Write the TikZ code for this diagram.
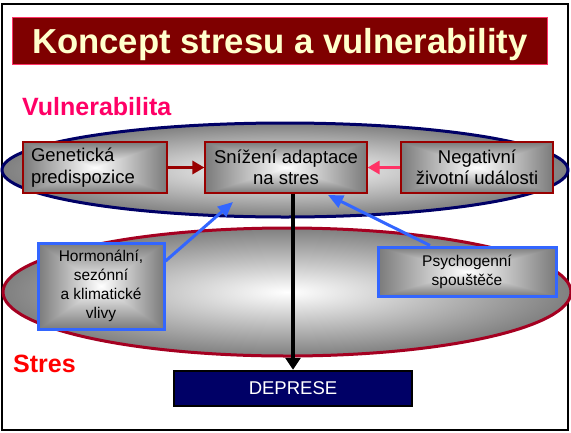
\documentclass[tikz,border=0pt]{standalone}
\usepackage{fontspec}
\setmainfont{Liberation Sans}
\usetikzlibrary{arrows.meta,calc}

% light centre fading to grey towards every edge of the box
\pgfdeclarefunctionalshading{rectglow}{\pgfpoint{-50bp}{-50bp}}{\pgfpoint{50bp}{50bp}}{}{
  abs exch abs 2 copy lt {exch} if pop 25 div dup 1 gt {pop 1} if
  0.52 mul 1 exch sub dup dup
}

\definecolor{titlered}{HTML}{7F0000}
\definecolor{titlerim}{HTML}{FF3366}
\definecolor{cream}{HTML}{FFFFCC}
\definecolor{vulnpink}{HTML}{FF0066}
\definecolor{stresred}{HTML}{FF0000}
\definecolor{navyrim}{HTML}{000066}
\definecolor{crimson}{HTML}{A50021}
\definecolor{boxrim}{HTML}{990000}
\definecolor{arrowpink}{HTML}{FF3366}
\definecolor{trigblue}{HTML}{3366FF}
\definecolor{depnavy}{HTML}{000066}

\tikzset{
  labelfont/.style={font=\fontsize{18.5}{21.5}\selectfont},
  smallfont/.style={font=\fontsize{15.5}{19}\selectfont},
  factorbox/.style={shade, shading=rectglow, draw=boxrim, line width=1.2pt,
    inner sep=0pt, labelfont},
  triggerbox/.style={shade, shading=rectglow, draw=trigblue, line width=3pt,
    inner sep=0pt, smallfont, align=center},
  redlink/.style={draw=boxrim, line width=3pt, -{Triangle[length=12pt,width=13pt]}},
  pinklink/.style={draw=arrowpink, line width=3pt, -{Triangle[length=12pt,width=13pt]}},
  bluelink/.style={draw=trigblue, line width=3pt, -{Triangle[length=15pt,width=13pt]}},
  outcome/.style={draw=black, line width=3.5pt, -{Triangle[length=12pt,width=15pt]}},
}

\begin{document}
\begin{tikzpicture}[x=1pt,y=-1pt]
\useasboundingbox (0,0) rectangle (571,432);

% outer frame
\draw[line width=2pt] (1.5,4) rectangle (568,430);

% heading bar
\node[fill=titlered, draw=titlerim, line width=0.8pt, minimum width=535pt,
  minimum height=47pt, inner sep=0pt] (titlebar) at (279.5,40.5) {};
\node[anchor=base, inner sep=0pt, text=cream,
  font=\fontsize{34.7}{40}\selectfont\bfseries] (title) at (280,53)
  {Koncept stresu a vulnerability};

% the two zones
\shadedraw[inner color=white, outer color=gray, draw=crimson, line width=3pt]
  (287,292) ellipse [x radius=284pt, y radius=64pt];
\shadedraw[inner color=white, outer color=gray, draw=navyrim, line width=3pt]
  (285,170) ellipse [x radius=283pt, y radius=47pt];

\node[anchor=base west, inner sep=0pt, text=vulnpink,
  font=\fontsize{25}{30}\selectfont\bfseries] (vuln) at (22,115) {Vulnerabilita};
\node[anchor=base west, inner sep=0pt, text=stresred,
  font=\fontsize{25}{30}\selectfont\bfseries] (stres) at (13,372) {Stres};

% factor boxes
\node[factorbox, minimum width=144pt, minimum height=51pt, text width=128pt,
  align=left] (genet) at (95,167.5) {Genetická\\predispozice};
\node[factorbox, minimum width=162pt, minimum height=51pt, align=center]
  (sniz) at (286,167.5) {Snížení adaptace\\na stres};
\node[factorbox, minimum width=152pt, minimum height=51pt, align=center]
  (negat) at (477,167.5) {Negativní\\životní události};

% triggers
\node[triggerbox, minimum width=126pt, minimum height=86pt] (horm) at (101,286)
  {Hormonální,\\sezónní\\a klimatické\\vlivy};
\node[triggerbox, minimum width=178pt, minimum height=49pt] (psych) at (467,271.5)
  {Psychogenní\\spouštěče};

% outcome
\node[fill=depnavy, draw=black, line width=2.5pt, minimum width=238pt,
  minimum height=35pt, inner sep=0pt, text=white,
  font=\fontsize{18.5}{22}\selectfont] (depr) at (293,388.5) {DEPRESE};

% connectors
\draw[redlink] (genet.east) -- (sniz.west);
\draw[pinklink] (negat.west) -- (sniz.west -| sniz.east);

\coordinate (hormout) at ($(horm.north east)!0.22!(horm.south east)$);
\coordinate (hormtip) at (233,202);
\draw[bluelink] (hormout) -- (hormtip);

\coordinate (psychout) at (psych.north -| 430,0);
\coordinate (psychtip) at (328,195);
\draw[bluelink] (psychout) -- (psychtip);

\draw[outcome] (sniz.south -| depr.north) -- (depr.north);
\end{tikzpicture}
\end{document}
